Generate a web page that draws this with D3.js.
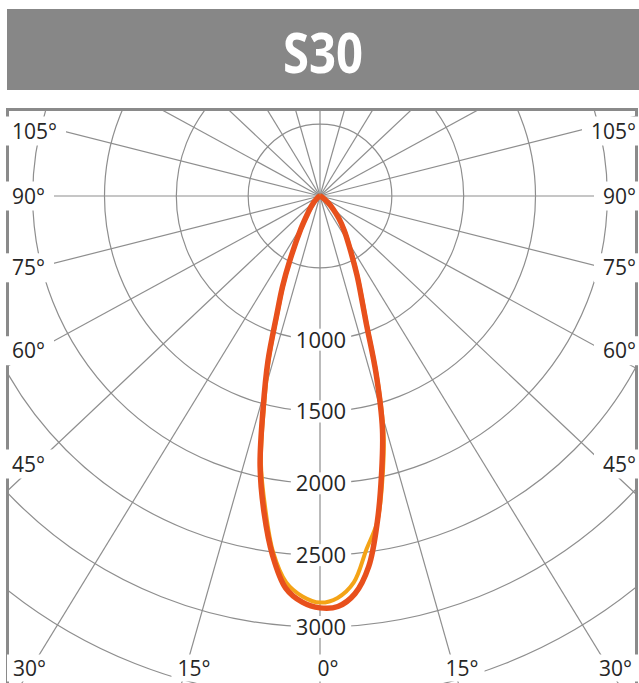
<!DOCTYPE html>
<html>
    <head>
        <title>S30 polar intensity</title>
        <script src="https://d3js.org/d3.v7.min.js"></script>
        <style>
            body {
                margin: 0;
                background-color: white;
            }
            text {
                font-family: "Open Sans", "DejaVu Sans", sans-serif;
            }
            .grid {
                fill: none;
                stroke: #8e8e8e;
                stroke-width: 1.2;
            }
            .lbl {
                fill: #262626;
            }
        </style>
    </head>

    <body>
        <svg id="myCanvas" width="639" height="683"></svg>

        <script>
            // gamma angles (deg from nadir) and candela values
            gammas      = [0, 2.5, 5, 7.5, 10, 12.5, 15, 17.5, 20, 22.5, 25, 30, 35, 40, 45, 50, 60, 70, 90];
            redRight    = [2865, 2860, 2780, 2600, 2300, 1980, 1680, 1300, 940, 745, 610, 410, 295, 205, 130, 75, 22, 5, 0];
            redLeft     = [2867, 2830, 2740, 2525, 2240, 1926, 1530, 1205, 880, 680, 500, 270, 150, 95, 58, 30, 10, 3, 0];
            orangeRight = [2830, 2800, 2700, 2480, 2300, 2010, 1710, 1320, 955, 760, 620, 420, 300, 208, 132, 76, 22, 5, 0];
            orangeLeft  = [2830, 2790, 2700, 2500, 2200, 1900, 1500, 1180, 860, 665, 490, 262, 145, 92, 55, 28, 9, 3, 0];

            circleValues = [500, 1000, 1500, 2000, 2500, 3000, 3500];
            valueLabels  = [1000, 1500, 2000, 2500, 3000];
            angleLabels  = [0, 15, 30, 45, 60, 75, 90, 105];
            title = "S30";

            svg = d3.select("#myCanvas");
            cx = 320; cy = 196;
            stretch = 1.06;
            r = d3.scaleLinear([0, 3000], [0, 431]);

            // title bar
            svg.append("rect").attr("x", 7).attr("y", 9).attr("width", 640).attr("height", 81).attr("fill", "#878787");
            svg.append("text").attr("x", 323).attr("y", 73)
                .attr("text-anchor", "middle")
                .attr("font-size", 56).attr("font-weight", "bold")
                .attr("textLength", 80).attr("lengthAdjust", "spacingAndGlyphs")
                .attr("fill", "white").text(title);

            // frame + clip
            fr = {x: 9, y: 111, w: 626, h: 600};
            svg.append("clipPath").attr("id", "clip")
                .append("rect").attr("x", fr.x).attr("y", fr.y).attr("width", fr.w).attr("height", fr.h);

            grid = svg.append("g").attr("clip-path", "url(#clip)");

            grid.selectAll("circle")
                .data(circleValues)
                .enter().append("circle")
                .attr("class", "grid")
                .attr("cx", cx).attr("cy", cy)
                .attr("r", d => r(d));

            rays = d3.range(0, 360, 15);
            grid.selectAll("line")
                .data(rays)
                .enter().append("line")
                .attr("class", "grid")
                .attr("x1", cx).attr("y1", cy)
                .attr("x2", d => cx + 900 * stretch * Math.sin(d * Math.PI / 180))
                .attr("y2", d => cy + 900 * Math.cos(d * Math.PI / 180));

            svg.append("rect").attr("x", 7.5).attr("y", 109.5).attr("width", 629).attr("height", 620)
                .attr("fill", "none").attr("stroke", "#8a8a8a").attr("stroke-width", 3);

            // labels with white boxes that cut the grid
            labels = svg.append("g");

            function addLabel(txt, x, y, anchor, size, padX, padY) {
                g = labels.append("g");
                bg = g.append("rect").attr("fill", "white");
                t = g.append("text").attr("class", "lbl")
                    .attr("x", x).attr("y", y)
                    .attr("dy", "0.36em")
                    .attr("font-size", size)
                    .attr("text-anchor", anchor)
                    .text(txt);
                b = t.node().getBBox();
                bg.attr("x", b.x - padX).attr("y", y - size / 2 - padY)
                    .attr("width", b.width + 2 * padX).attr("height", size + 2 * padY);
                return t;
            }

            valueLabels.forEach(v => addLabel(v, cx + 1, cy + r(v), "middle", 22, 5, 0));

            angleLabels.forEach(g => {
                [-1, 1].forEach(side => {
                    if (g == 0 && side == -1) return;
                    a = g * Math.PI / 180;
                    if (g >= 30 && g < 45) {
                        // corner labels
                        if (side < 0) addLabel(g + "°", 13, 668, "start", 21, 6, 3);
                        else addLabel(g + "°", 632, 668, "end", 21, 6, 3);
                    } else if (g < 30) {
                        y = 668;
                        x = cx + side * (y - cy) * stretch * Math.tan(a) + 8;
                        addLabel(g + "°", x, y, "middle", 21, 6, 3);
                    } else {
                        y = Math.max(131, cy + 268 * Math.cos(a) / Math.sin(a));
                        if (side < 0) addLabel(g + "°", 12, y, "start", 21, 9, 4);
                        else addLabel(g + "°", 636, y, "end", 21, 9, 4);
                    }
                });
            });

            // intensity curves
            function profile(left, right) {
                pts = [];
                for (i = gammas.length - 1; i >= 0; i--) pts.push({a: Math.PI + gammas[i] * Math.PI / 180, v: left[i]});
                for (i = 1; i < gammas.length; i++) pts.push({a: Math.PI - gammas[i] * Math.PI / 180, v: right[i]});
                return pts;
            }

            line = d3.lineRadial()
                .angle(d => d.a)
                .radius(d => r(d.v))
                .curve(d3.curveCatmullRom.alpha(0.5));

            curves = svg.append("g").attr("transform", "translate(" + cx + "," + cy + ")");
            curves.append("path")
                .attr("d", line(profile(orangeLeft, orangeRight)))
                .attr("fill", "none").attr("stroke", "#f4a316").attr("stroke-width", 4)
                .attr("stroke-linejoin", "round");
            curves.append("path")
                .attr("d", line(profile(redLeft, redRight)))
                .attr("fill", "none").attr("stroke", "#e8501c").attr("stroke-width", 5.5)
                .attr("stroke-linejoin", "round");
        </script>
    </body>
</html>
